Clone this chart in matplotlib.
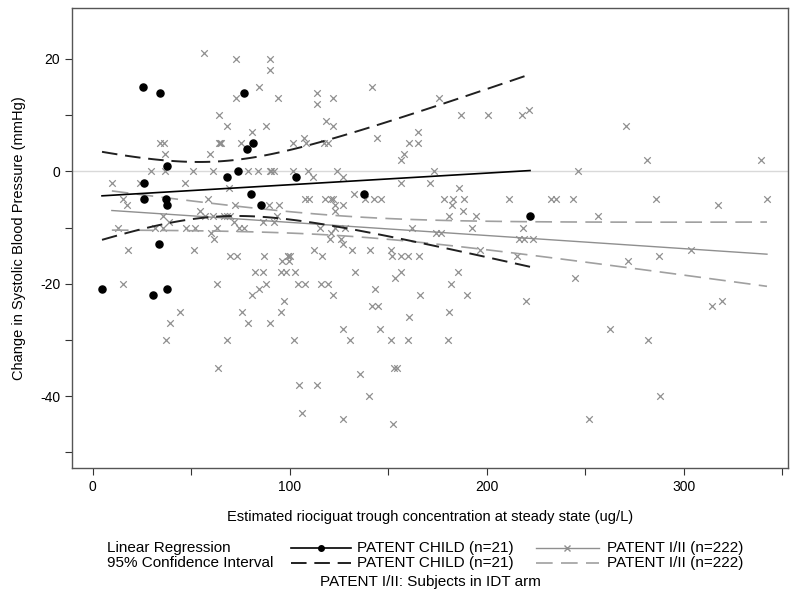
import matplotlib
matplotlib.use("Agg")
import matplotlib.pyplot as plt
from matplotlib.lines import Line2D
import numpy as np

plt.rcParams['font.family'] = ['Liberation Sans', 'DejaVu Sans']

# PATENT CHILD (n=21): concentration (ug/L), change in SBP (mmHg)
child_x = [25.7, 33.9, 76.8, 81.2, 78.1, 37.6, 26.1, 73.6, 68.1, 103.0, 80.5,
           26.2, 37.1, 37.6, 85.4, 33.5, 4.7, 30.5, 37.5, 137.6, 222.0]
child_y = [15, 14, 14, 5, 4, 1, -2, 0, -1, -1, -4,
           -5, -5, -6, -6, -13, -21, -22, -21, -4, -8]

# PATENT I/II (n=222), IDT arm
patent_x = [56.6, 72.9, 84.2, 72.5, 64.1, 68.1, 81.0, 34.1, 36.4, 64.1, 65.3, 75.4,
            36.8, 59.3, 29.5, 36.8, 50.7, 60.9, 78.8, 83.7, 9.7, 24.1, 46.6, 69.3,
            58.3, 15.3, 17.6, 89.8, 89.8, 94.1, 113.7, 113.7, 122.1, 141.9, 88.1, 118.3,
            122.1, 107.1, 101.7, 108.3, 117.3, 119.5, 144.5, 165.1, 160.7, 165.1, 157.8, 156.7,
            90.5, 91.9, 101.7, 109.2, 111.9, 123.8, 127.0, 156.7, 132.6, 107.6, 109.7, 117.8,
            121.2, 138.2, 142.7, 146.1, 176.0, 186.8, 200.9, 217.9, 221.3, 173.2, 246.2, 171.1,
            186.0, 178.3, 188.5, 211.4, 232.6, 235.1, 243.6, 182.3, 188.2, 180.9, 194.5, 192.3,
            218.2, 174.5, 176.7, 216.5, 219.0, 223.6, 196.5, 215.2, 165.6, 185.5, 181.7, 244.8,
            166.3, 190.2, 220.2, 180.9, 180.4, 270.6, 281.4, 339.4, 286.0, 342.3, 317.4, 256.5,
            271.9, 287.4, 303.7, 314.3, 319.7, 262.8, 282.1, 288.2, 251.8, 72.4, 54.2, 35.9,
            38.5, 57.1, 61.3, 66.5, 68.1, 69.8, 71.5, 12.7, 31.7, 35.9, 51.7, 63.1,
            74.1, 76.6, 60.0, 61.7, 18.1, 51.5, 69.8, 73.2, 82.6, 15.4, 62.9, 80.9,
            84.2, 44.4, 75.8, 39.2, 78.7, 37.3, 68.3, 63.4, 89.7, 94.8, 123.2, 127.0,
            122.9, 93.6, 86.3, 92.2, 115.6, 123.2, 128.3, 162.2, 121.2, 120.7, 125.8, 127.0,
            112.2, 116.5, 131.7, 141.0, 151.2, 151.7, 156.7, 160.0, 86.8, 96.3, 99.0, 99.5,
            100.0, 133.1, 86.5, 95.8, 97.9, 102.5, 153.4, 156.3, 88.0, 104.3, 107.6, 116.0,
            119.5, 121.9, 143.1, 97.0, 141.9, 145.0, 95.8, 89.8, 160.6, 127.0, 145.6, 102.4,
            130.5, 151.6, 160.0, 135.6, 152.9, 154.6, 104.6, 113.7, 140.2, 106.3, 127.0, 152.4,
            99.2, 64.5, 90.2, 122.0, 183.0, 47.5]
patent_y = [21, 20, 15, 13, 10, 8, 7, 5, 5, 5, 5, 5,
            3, 3, 0, 0, 0, 0, 0, 0, -2, -2, -2, -3,
            -5, -5, -6, 20, 18, 13, 14, 12, 13, 15, 8, 9,
            8, 6, 5, 5, 5, 5, 6, 7, 5, 5, 3, 2,
            0, 0, 0, 0, -1, 0, -1, -2, -4, -5, -5, -5,
            -5, -5, -5, -5, 13, 10, 10, 10, 11, 0, 0, -2,
            -3, -5, -5, -5, -5, -5, -5, -6, -7, -8, -8, -10,
            -10, -11, -11, -12, -12, -12, -14, -15, -15, -18, -20, -19,
            -22, -22, -23, -25, -30, 8, 2, 2, -5, -5, -6, -8,
            -16, -15, -14, -24, -23, -28, -30, -40, -44, -6, -7, -8,
            -9, -8, -8, -8, -8, -8, -9, -10, -10, -10, -10, -10,
            -10, -10, -11, -12, -14, -14, -15, -15, -18, -20, -20, -22,
            -21, -25, -25, -27, -27, -30, -30, -35, -6, -6, -6, -6,
            -7, -8, -9, -9, -10, -10, -10, -10, -11, -12, -12, -13,
            -14, -15, -14, -14, -14, -15, -15, -15, -15, -16, -15, -16,
            -15, -18, -18, -18, -18, -18, -19, -18, -20, -20, -20, -20,
            -20, -22, -21, -23, -24, -24, -25, -27, -26, -28, -28, -30,
            -30, -30, -30, -36, -35, -35, -38, -38, -40, -43, -44, -45,
            -15, 5, 0, -5, -5, -10]

BLACK = '#000000'
GREY = '#8f8f8f'
GREY_CI = '#a0a0a0'
FS = 10.5
FS_LEG = 11


def fit_band(x, y, n_grid=120):
    x = np.asarray(x, float)
    y = np.asarray(y, float)
    n = len(x)
    slope, icpt = np.polyfit(x, y, 1)
    resid = y - (icpt + slope * x)
    s = np.sqrt(np.sum(resid ** 2) / (n - 2))
    sxx = np.sum((x - x.mean()) ** 2)
    t = 1.97 if n > 100 else 2.093
    xg = np.linspace(x.min(), x.max(), n_grid)
    yg = icpt + slope * xg
    hw = t * s * np.sqrt(1.0 / n + (xg - x.mean()) ** 2 / sxx)
    return xg, yg, yg - hw, yg + hw


fig = plt.figure(figsize=(7.92, 6.0), dpi=100)
ax = fig.add_axes([0.091, 0.22, 0.904, 0.767])

ax.axhline(0, color='#d9d9d9', lw=1.0, zorder=1)

# PATENT I/II
xg, yg, lo, hi = fit_band(patent_x, patent_y)
ax.scatter(patent_x, patent_y, marker='x', s=22, linewidths=0.9, color=GREY, zorder=2)
ax.plot(xg, yg, color=GREY, lw=1.0, zorder=3)
ax.plot(xg, lo, color=GREY_CI, lw=1.2, dashes=(10, 5), zorder=3)
ax.plot(xg, hi, color=GREY_CI, lw=1.2, dashes=(10, 5), zorder=3)

# PATENT CHILD
xg, yg, lo, hi = fit_band(child_x, child_y)
ax.scatter(child_x, child_y, marker='o', s=26, color=BLACK, zorder=5)
ax.plot(xg, yg, color=BLACK, lw=1.2, zorder=4)
ax.plot(xg, lo, color='#202020', lw=1.4, dashes=(8, 4), zorder=4)
ax.plot(xg, hi, color='#202020', lw=1.4, dashes=(8, 4), zorder=4)

ax.set_xlim(-10.5, 353)
ax.set_ylim(-52.8, 29.1)
ax.set_xticks([0, 50, 100, 150, 200, 250, 300, 350])
ax.set_xticklabels(['0', '', '100', '', '200', '', '300', ''])
ax.set_yticks([-50, -40, -30, -20, -10, 0, 10, 20])
ax.set_yticklabels(['', '-40', '', '-20', '', '0', '', '20'])
ax.tick_params(labelsize=10, length=5, width=0.8, color='#333333')
for sp in ax.spines.values():
    sp.set_color('#555555')
    sp.set_linewidth(1.0)

ax.set_xlabel('Estimated riociguat trough concentration at steady state (ug/L)', fontsize=FS, labelpad=12)
ax.set_ylabel('Change in Systolic Blood Pressure (mmHg)', fontsize=FS, labelpad=10)

# legend block below the axes (pixel positions converted to figure fractions)
W, H = 792.0, 600.0
def fx(px):
    return px / W
def fy(py):
    return 1 - py / H

rows = [548, 563]
fig.text(fx(107), fy(rows[0]), 'Linear Regression', fontsize=FS_LEG, va='center')
fig.text(fx(107), fy(rows[1]), '95% Confidence Interval', fontsize=FS_LEG, va='center')

# child entries
fig.add_artist(Line2D([fx(291), fx(351)], [fy(rows[0])] * 2, color=BLACK, lw=1.2))
fig.add_artist(Line2D([fx(321)], [fy(rows[0])], color=BLACK, marker='o', markersize=4, lw=0))
fig.add_artist(Line2D([fx(291), fx(351)], [fy(rows[1])] * 2, color='#202020', lw=1.4, dashes=(8, 4)))
fig.text(fx(357), fy(rows[0]), 'PATENT CHILD (n=21)', fontsize=FS_LEG, va='center')
fig.text(fx(357), fy(rows[1]), 'PATENT CHILD (n=21)', fontsize=FS_LEG, va='center')

# PATENT I/II entries
fig.add_artist(Line2D([fx(536), fx(599)], [fy(rows[0])] * 2, color=GREY, lw=1.0))
fig.add_artist(Line2D([fx(567)], [fy(rows[0])], color=GREY, marker='x', markersize=4, lw=0))
fig.add_artist(Line2D([fx(536), fx(599)], [fy(rows[1])] * 2, color=GREY_CI, lw=1.2, dashes=(10, 5)))
fig.text(fx(607), fy(rows[0]), 'PATENT I/II (n=222)', fontsize=FS_LEG, va='center')
fig.text(fx(607), fy(rows[1]), 'PATENT I/II (n=222)', fontsize=FS_LEG, va='center')

fig.text(fx(430), fy(582), 'PATENT I/II: Subjects in IDT arm', fontsize=FS_LEG, va='center', ha='center')

fig.savefig('out.png', dpi=100)
